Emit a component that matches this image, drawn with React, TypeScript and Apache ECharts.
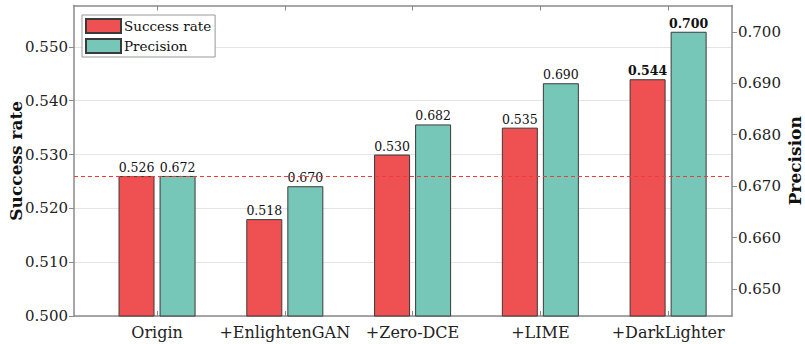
import React, { useEffect, useRef } from "react";
import * as echarts from "echarts";

const categories = ["Origin", "+EnlightenGAN", "+Zero-DCE", "+LIME", "+DarkLighter"];
const successRate = [0.526, 0.518, 0.53, 0.535, 0.544];
const precision = [0.672, 0.67, 0.682, 0.69, 0.7];
const leftTicks = [0.5, 0.51, 0.52, 0.53, 0.54, 0.55];
const rightTicks = [0.65, 0.66, 0.67, 0.68, 0.69, 0.7];
const baselineSuccess = 0.526;

const FONT = "DejaVu Serif";
const AXIS_COLOR = "#8a8a8a";

export default function App() {
  const ref = useRef<HTMLDivElement>(null);
  useEffect(() => {
    if (!ref.current) return;
    const chart = echarts.init(ref.current, undefined, { renderer: "svg" });
    const positions = categories.map((_, i) => i + 1);
    const mkData = (vals: number[]) =>
      vals.map((v, i) => {
        const item: any = { value: [positions[i], v] };
        if (i === vals.length - 1) item.label = { fontWeight: "bold" };
        return item;
      });
    const xCommon = {
      type: "value",
      min: 0.35,
      max: 5.5,
      splitLine: { show: false },
      axisLine: { show: true, lineStyle: { color: AXIS_COLOR, width: 1.5 } },
    };
    chart.setOption({
      animation: false,
      textStyle: { fontFamily: FONT },
      grid: { left: 74, right: 73, top: 5.5, bottom: 28, containLabel: false, outerBoundsMode: "none" },
      legend: {
        show: true,
        orient: "vertical",
        left: 82,
        top: 15,
        padding: [3, 4, 3, 3],
        itemGap: 4,
        itemWidth: 35,
        itemHeight: 14,
        icon: "rect",
        borderColor: "#999",
        borderWidth: 1,
        backgroundColor: "#fff",
        textStyle: { fontFamily: FONT, fontSize: 13.5, color: "#111", padding: [0, 0, 0, -2] },
        data: ["Success rate", "Precision"],
      },
      xAxis: [
        {
          ...xCommon,
          position: "bottom",
          axisTick: { show: true, inside: true, length: 5, customValues: positions, lineStyle: { color: AXIS_COLOR } },
          axisLabel: {
            show: true,
            customValues: positions,
            formatter: (v: number) => categories[Math.round(v) - 1] ?? "",
            fontFamily: FONT,
            fontSize: 16,
            color: "#222",
            margin: 8,
          },
        },
        {
          ...xCommon,
          position: "top",
          axisTick: { show: true, inside: true, length: 5, customValues: positions, lineStyle: { color: AXIS_COLOR } },
          axisLabel: { show: false },
        },
      ],
      yAxis: [
        {
          type: "value",
          min: 0.5,
          max: 0.5577,
          interval: 0.01,
          position: "left",
          name: "Success rate",
          nameLocation: "middle",
          nameGap: 50,
          nameMoveOverlap: false,
          nameTextStyle: { fontFamily: FONT, fontSize: 17, fontWeight: "bold", color: "#111" },
          axisLine: { show: true, lineStyle: { color: AXIS_COLOR, width: 1.5 } },
          axisTick: { show: true, inside: false, length: 5, customValues: leftTicks, lineStyle: { color: AXIS_COLOR } },
          axisLabel: {
            customValues: leftTicks,
            formatter: (v: number) => v.toFixed(3),
            fontFamily: FONT,
            fontSize: 15,
            color: "#222",
            margin: 6,
          },
          splitLine: { show: true, lineStyle: { color: "#e4e4e4", width: 1 } },
        },
        {
          type: "value",
          min: 0.6448,
          max: 0.7051,
          position: "right",
          name: "Precision",
          nameLocation: "middle",
          nameGap: 54,
          nameRotate: 90,
          nameMoveOverlap: false,
          nameTextStyle: { fontFamily: FONT, fontSize: 17, fontWeight: "bold", color: "#111" },
          axisLine: { show: true, lineStyle: { color: AXIS_COLOR, width: 1.5 } },
          axisTick: { show: true, inside: false, length: 5, customValues: rightTicks, lineStyle: { color: AXIS_COLOR } },
          axisLabel: {
            customValues: rightTicks,
            formatter: (v: number) => v.toFixed(3),
            fontFamily: FONT,
            fontSize: 15,
            color: "#222",
            margin: 6,
          },
          splitLine: { show: false },
        },
      ],
      series: [
        {
          name: "Success rate",
          type: "bar",
          xAxisIndex: 0,
          yAxisIndex: 0,
          barWidth: 36,
          barGap: "14%",
          data: mkData(successRate),
          itemStyle: { color: "#EF5052", borderColor: "#3a3a3a", borderWidth: 1 },
          label: {
            show: true,
            position: "top",
            distance: 2,
            fontFamily: FONT,
            fontSize: 12.5,
            color: "#111",
            formatter: (p: any) => p.value[1].toFixed(3),
          },
          markLine: {
            silent: true,
            symbol: "none",
            precision: 4,
            label: { show: false },
            lineStyle: { color: "#EF3B3B", type: [4, 3], width: 1 },
            data: [{ yAxis: baselineSuccess }],
          },
        },
        {
          name: "Precision",
          type: "bar",
          xAxisIndex: 0,
          yAxisIndex: 1,
          barWidth: 36,
          barGap: "14%",
          data: mkData(precision),
          itemStyle: { color: "#76C7B8", borderColor: "#3a3a3a", borderWidth: 1 },
          label: {
            show: true,
            position: "top",
            distance: 2,
            fontFamily: FONT,
            fontSize: 12.5,
            color: "#111",
            formatter: (p: any) => p.value[1].toFixed(3),
          },
        },
      ],
    });
    return () => chart.dispose();
  }, []);
  return (
    <div
      ref={ref}
      style={{ position: "absolute", left: 0, top: 0, width: 805, height: 344, background: "#fff" }}
    />
  );
}
